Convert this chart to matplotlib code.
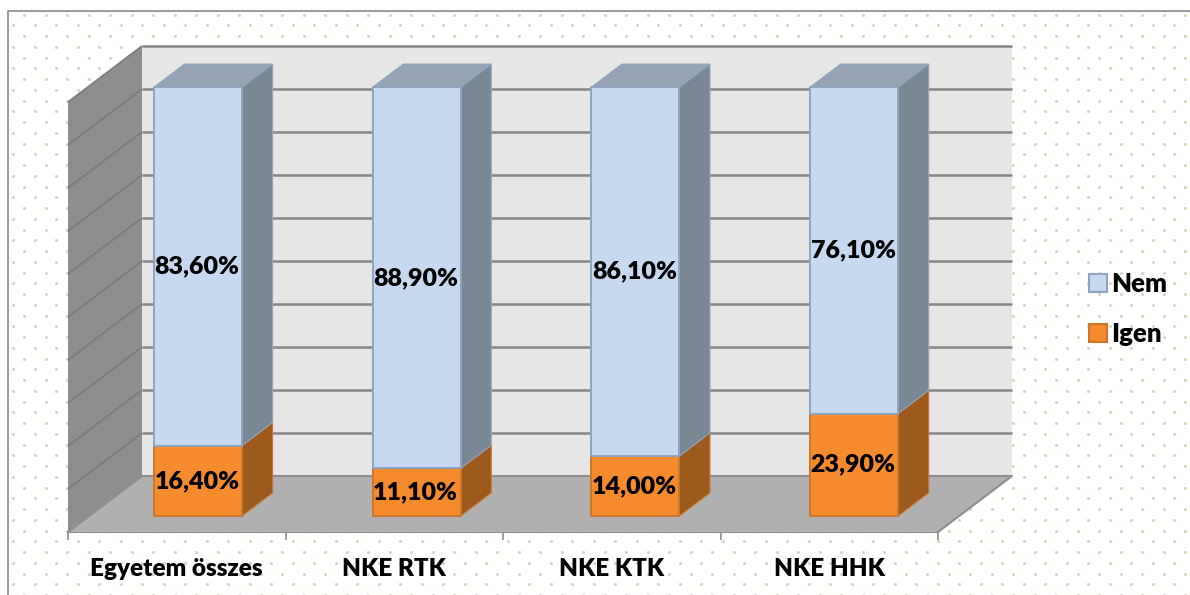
import numpy as np
import matplotlib
matplotlib.use("Agg")
import matplotlib.pyplot as plt
from matplotlib.patches import Patch

categories = ["Egyetem összes", "NKE RTK", "NKE KTK", "NKE HHK"]
igen = [16.4, 11.1, 14.0, 23.9]
nem = [83.6, 88.9, 86.1, 76.1]
igen_labels = ["16,40%", "11,10%", "14,00%", "23,90%"]
nem_labels = ["83,60%", "88,90%", "86,10%", "76,10%"]

W, H = 1190, 595
# front plane of the fake 3D box, in pixels
LEFT, RIGHT, BOTTOM, TOP = 68, 938, 532, 102
DEPTH_X, DEPTH_Y = 74, 56
BAR_WIDTH = 88 / 217.5
BAR_PITCH = 218.7 / 217.5
BAR_D0, BAR_D1 = 0.286, 0.70
BAR_FULL = 99.7  # columns are 100% stacked, a hair under the axis height

plt.rcParams["font.family"] = ["Lato", "DejaVu Sans"]
plt.rcParams["font.weight"] = "heavy"

fig = plt.figure(figsize=(W / 100, H / 100), dpi=100, facecolor="white")

# dotted background and outer frame, pixel coords
bg = fig.add_axes([0, 0, 1, 1])
bg.set_xlim(0, W)
bg.set_ylim(H, 0)
bg.axis("off")
for r, y in enumerate(np.arange(14.7, H + 5, 10.75)):
    x0 = 24 if r % 2 == 0 else 13.3
    xs = np.arange(x0, W + 5, 21.5)
    bg.scatter(xs, np.full_like(xs, y), s=5, color="#dcd6b6", linewidths=0)
bg.plot([8, 8, W], [H, 11, 11], color="#8a8a8a", lw=1.2)

ax = fig.add_axes([LEFT / W, (H - BOTTOM) / H, (RIGHT - LEFT) / W, (BOTTOM - TOP) / H])
ax.set_xlim(0, 4)
ax.set_ylim(0, 100)
ax.patch.set_alpha(0)
dx = DEPTH_X / ((RIGHT - LEFT) / 4)
dy = DEPTH_Y / ((BOTTOM - TOP) / 100)


def proj(x, y, d):
    return x + d * dx, y + d * dy


def face(pts, color, edge=None, lw=0, z=1):
    xs, ys = zip(*[proj(*p) for p in pts])
    ax.fill(xs, ys, facecolor=color, edgecolor=edge or color, linewidth=lw, clip_on=False, zorder=z)


# walls and floor
face([(0, 0, 1), (4, 0, 1), (4, 100, 1), (0, 100, 1)], "#e6e6e6")
face([(0, 0, 0), (0, 0, 1), (0, 100, 1), (0, 100, 0)], "#8e8e8e")
for v in range(10, 101, 10):
    xs, ys = zip(proj(4, v, 1), proj(0, v, 1), proj(0, v, 0))
    ax.plot(xs[:2], ys[:2], color="#868686", lw=1.8, clip_on=False, solid_capstyle="butt", zorder=2)
    ax.plot(xs[1:], ys[1:], color="#7c7c7c", lw=1.2, clip_on=False, solid_capstyle="butt", zorder=2)
face([(0, 0, 0), (4, 0, 0), (4, 0, 1), (0, 0, 1)], "#b0b0b0", z=3)
xs, ys = zip(proj(0, 0, 0), proj(0, 0, 1), proj(4, 0, 1), proj(4, 0, 0))
ax.plot(xs, ys, color="#8e8e8e", lw=1.5, clip_on=False, zorder=3)

# stacked bars
segments = [
    (igen, "#f68b2e", "#9c5a1c", "#c9772c", igen_labels),
    (nem, "#c6d9f1", "#7a8896", "#8fa4bf", nem_labels),
]
for i in range(len(categories)):
    x0 = i * BAR_PITCH + 0.5 - BAR_WIDTH / 2
    x1 = x0 + BAR_WIDTH
    scale = BAR_FULL / (igen[i] + nem[i])
    base = 0
    for values, front, side, edge, labels in segments:
        top = base + values[i] * scale
        d0, d1 = BAR_D0, BAR_D1
        face([(x1, base, d0), (x1, base, d1), (x1, top, d1), (x1, top, d0)], side, edge, 0.8, z=4)
        if values is nem:
            face([(x0, top, d0), (x1, top, d0), (x1, top, d1), (x0, top, d1)], "#95a3b5", "#8fa4bf", 0.8, z=4)
        face([(x0, base, d0), (x1, base, d0), (x1, top, d0), (x0, top, d0)], front, edge, 1.4, z=4)
        cx, cy = proj((x0 + x1) / 2, (base + top) / 2, d0)
        ax.text(cx - 0.004, cy, labels[i], ha="center", va="center", fontsize=18, color="black", clip_on=False, zorder=5)
        base = top

# axis
for s in ["top", "left", "right"]:
    ax.spines[s].set_visible(False)
ax.spines["bottom"].set_color("#8e8e8e")
ax.spines["bottom"].set_linewidth(1.5)
ax.set_yticks([])
ax.set_xticks(range(5))
ax.set_xticklabels([])
ax.set_xticks(np.arange(4) + 0.5, labels=categories, minor=True)
ax.tick_params(axis="x", which="major", length=6, width=1.2, color="#8e8e8e")
ax.tick_params(axis="x", which="minor", length=0, labelsize=17.5, pad=19)

handles = [Patch(facecolor="#c6d9f1", edgecolor="#8fa4bf", linewidth=1.5),
           Patch(facecolor="#f68b2e", edgecolor="#c9772c", linewidth=1.5)]
fig.legend(handles, ["Nem", "Igen"], loc="center left", bbox_to_anchor=(1089 / W, 1 - 309 / H),
           frameon=False, fontsize=18.5, handlelength=0.7, handleheight=0.7,
           handletextpad=0.18, labelspacing=1.03, borderpad=0, borderaxespad=0)

fig.savefig("out.png", dpi=100)
